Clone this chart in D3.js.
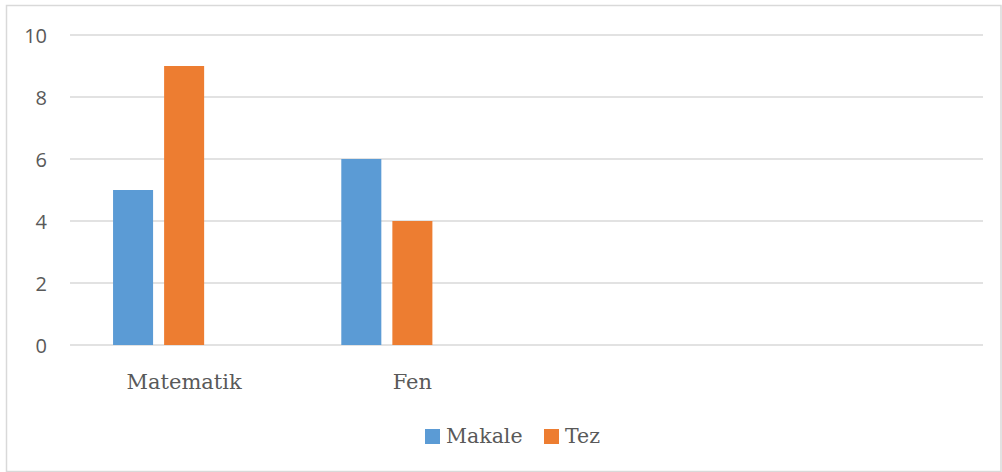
<!DOCTYPE html>
<html>
<head>
<meta charset="utf-8">
<script src="https://cdn.jsdelivr.net/npm/d3@7"></script>
<style>
  html, body { margin: 0; padding: 0; background: #fff; }
  svg { display: block; }
</style>
</head>
<body>
<svg id="chart" width="1002" height="472"></svg>
<script>
// Chart data
const categories = ["Matematik", "Fen", "", " "];
const seriesNames = ["Makale", "Tez"];
const slots = ["Makale", "Tez", "Seri 3"];   // third slot is an empty series
const makale = [5, 6, null, null];
const tez = [9, 4, null, null];
const yTicks = [0, 2, 4, 6, 8, 10];
const colors = ["#5b9bd5", "#ed7d31"];

const svg = d3.select("#chart");
const W = 1002, H = 472;

// Outer frame
svg.append("rect")
  .attr("x", 6.5).attr("y", 5.5)
  .attr("width", W - 7.5).attr("height", H - 6)
  .attr("fill", "#fff").attr("stroke", "#d9d9d9").attr("stroke-width", 1.5);

const plot = { left: 70, right: 983, top: 35, bottom: 345 };

const x = d3.scaleBand().domain(categories)
  .range([plot.left, plot.right]).paddingInner(0).paddingOuter(0);
const y = d3.scaleLinear().domain([0, 10]).range([plot.bottom, plot.top]);

// Gridlines
svg.append("g").selectAll("line").data(yTicks).join("line")
  .attr("x1", plot.left).attr("x2", plot.right)
  .attr("y1", d => y(d)).attr("y2", d => y(d))
  .attr("stroke", "#d9d9d9").attr("stroke-width", 1.3);

// Y-axis labels
const yAxis = d3.axisLeft(y).tickValues(yTicks).tickSize(0).tickPadding(0);
const yg = svg.append("g").attr("transform", "translate(47,0)").call(yAxis);
yg.select(".domain").remove();
yg.selectAll("text")
  .attr("fill", "#595959")
  .attr("dy", "0.36em")
  .style("font-family", "'Open Sans', 'Liberation Sans', sans-serif")
  .style("font-size", "20px");

// Bars
const inner = d3.scaleBand().domain(slots)
  .range([0, x.bandwidth()]).paddingInner(0.216).paddingOuter(0.843);
const series = [makale, tez];
const rows = [];
categories.forEach((c, i) => {
  seriesNames.forEach((s, j) => {
    if (series[j][i] != null) rows.push({ c, s, v: series[j][i], j });
  });
});
svg.append("g").selectAll("rect").data(rows).join("rect")
  .attr("x", d => x(d.c) + inner(d.s))
  .attr("width", inner.bandwidth())
  .attr("y", d => y(d.v))
  .attr("height", d => y(0) - y(d.v))
  .attr("fill", d => colors[d.j]);

// Category labels
const xAxis = d3.axisBottom(x).tickSize(0).tickPadding(0);
const xg = svg.append("g").attr("transform", `translate(0,${plot.bottom})`).call(xAxis);
xg.select(".domain").remove();
xg.selectAll("text")
  .attr("dy", "0")
  .attr("y", 44)
  .attr("fill", "#595959")
  .style("font-family", "'DejaVu Serif', 'Liberation Serif', serif")
  .style("font-size", "21px");

// Legend
const legendItems = [
  { name: seriesNames[0], color: colors[0], x: 425 },
  { name: seriesNames[1], color: colors[1], x: 544 }
];
const lg = svg.append("g");
legendItems.forEach(it => {
  lg.append("rect").attr("x", it.x).attr("y", 429)
    .attr("width", 15).attr("height", 15).attr("fill", it.color);
  lg.append("text").attr("x", it.x + 21).attr("y", 443)
    .attr("fill", "#595959")
    .style("font-family", "'DejaVu Serif', 'Liberation Serif', serif")
    .style("font-size", "20.5px")
    .text(it.name);
});
</script>
</body>
</html>
